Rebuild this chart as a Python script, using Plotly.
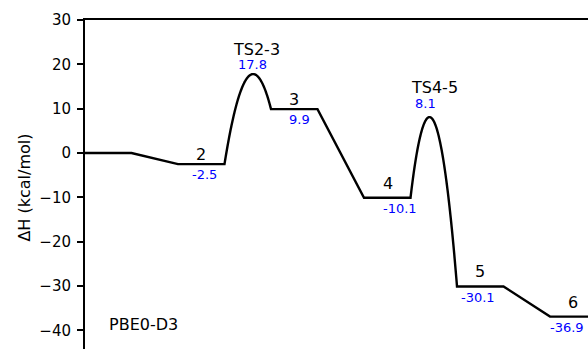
import numpy as np
import plotly.graph_objects as go

# Enthalpy profile (kcal/mol) along the reaction coordinate
level_names = [None, "2", "3", "4", "5", "6"]
level_energy = [0.0, -2.5, 9.9, -10.1, -30.1, -36.9]
level_value_text = [None, "-2.5", "9.9", "-10.1", "-30.1", "-36.9"]

# Transition states: which pair of minima they join, and where the top sits
ts_names = ["TS2-3", "TS4-5"]
ts_energy = [17.8, 8.1]
ts_value_text = ["17.8", "8.1"]
ts_links = [(1, 2), (3, 4)]
ts_coord = [3.61, 7.41]

method_label = "PBE0-D3"

# Label placement tweaks (pixels)
name_shift = [None, (0, 10), (0, 10), (1, 14), (0, 14.5), (0, 14.5)]
value_shift = [None, (3.5, -10), (5.5, -10), (13, -11), (-2.5, -11), (-6, -11)]
ts_name_shift = [(4, 24.5), (4.5, 30)]
ts_value_shift = [(0, 10), (-4, 14)]

FONT = "DejaVu Sans"
BLUE = "#0000ff"

# Build the profile path: each minimum is a flat segment [2k, 2k+1],
# joined by straight lines or by a parabolic barrier through the TS.
ts_by_link = {link: i for i, link in enumerate(ts_links)}
path_x, path_y = [], []
for k, e in enumerate(level_energy):
    path_x += [2 * k, 2 * k + 1]
    path_y += [e, e]
    if k + 1 < len(level_energy):
        x0, x2 = 2 * k + 1, 2 * k + 2
        e2 = level_energy[k + 1]
        if (k, k + 1) in ts_by_link:
            i = ts_by_link[(k, k + 1)]
            coef = np.polyfit([x0, ts_coord[i], x2], [e, ts_energy[i], e2], 2)
            xs = np.linspace(x0, x2, 120)
            path_x += list(xs[1:-1])
            path_y += list(np.polyval(coef, xs[1:-1]))

fig = go.Figure()
fig.add_trace(go.Scatter(
    x=path_x, y=path_y, mode="lines",
    line=dict(color="black", width=2.4, simplify=False),
    hoverinfo="skip", showlegend=False,
))

annotations = []
for k, name in enumerate(level_names):
    if name is None:
        continue
    cx = 2 * k + 0.5
    dx, dy = name_shift[k]
    annotations.append(dict(
        x=cx, y=level_energy[k], text=name, showarrow=False,
        xanchor="center", yanchor="middle", xshift=dx, yshift=dy,
        font=dict(family=FONT, size=16, color="black"),
    ))
    dx, dy = value_shift[k]
    annotations.append(dict(
        x=cx, y=level_energy[k], text=level_value_text[k], showarrow=False,
        xanchor="center", yanchor="middle", xshift=dx, yshift=dy,
        font=dict(family=FONT, size=13, color=BLUE),
    ))

for i, name in enumerate(ts_names):
    dx, dy = ts_name_shift[i]
    annotations.append(dict(
        x=ts_coord[i], y=ts_energy[i], text=name, showarrow=False,
        xanchor="center", yanchor="middle", xshift=dx, yshift=dy,
        font=dict(family=FONT, size=16, color="black"),
    ))
    dx, dy = ts_value_shift[i]
    annotations.append(dict(
        x=ts_coord[i], y=ts_energy[i], text=ts_value_text[i], showarrow=False,
        xanchor="center", yanchor="middle", xshift=dx, yshift=dy,
        font=dict(family=FONT, size=13, color=BLUE),
    ))

annotations.append(dict(
    x=1.26, y=-38.6, text=method_label, showarrow=False,
    xanchor="center", yanchor="middle",
    font=dict(family=FONT, size=16, color="black"),
))

# Y-axis title
annotations.append(dict(
    x=0, xref="paper", xanchor="center", xshift=-60,
    y=-7.8, yref="y", yanchor="middle",
    text="ΔH (kcal/mol)", textangle=-90, showarrow=False,
    font=dict(family=FONT, size=16, color="black"),
))

fig.update_layout(
    width=588, height=349,
    margin=dict(l=85, r=0, t=20, b=0, pad=0),
    paper_bgcolor="white", plot_bgcolor="white",
    annotations=annotations,
    xaxis=dict(
        range=[0, 10.817], side="top", showline=True, linecolor="black",
        linewidth=2, showticklabels=False, ticks="", showgrid=False,
        zeroline=False, fixedrange=True,
    ),
    yaxis=dict(
        range=[-44.2, 30], tickvals=list(range(-40, 31, 10)),
        ticks="outside", ticklen=6, tickwidth=1.6, tickcolor="black",
        showline=True, linecolor="black", linewidth=2,
        showgrid=False, zeroline=False, ticklabelstandoff=3,
        tickfont=dict(family=FONT, size=15, color="black"),
    ),
)

fig.write_html("out.html")
